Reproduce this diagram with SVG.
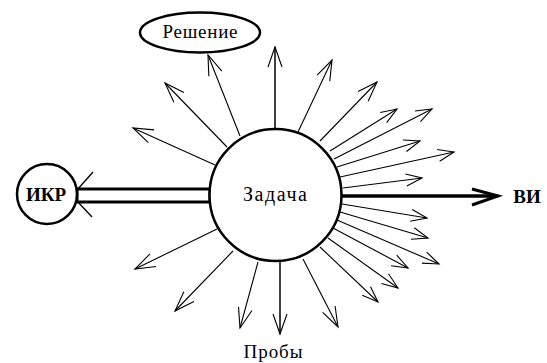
<svg xmlns="http://www.w3.org/2000/svg" width="547" height="363" viewBox="0 0 547 363">
<style>
.node{fill:#fff;stroke:#000;stroke-width:2.5}
text{font-family:"Liberation Serif","DejaVu Serif","Times New Roman",serif;fill:#000;text-anchor:middle}
.b{font-weight:bold;font-size:19px}
.r{font-size:19px}
.a{stroke:#000;stroke-width:1.1;fill:none;marker-end:url(#big)}
.s{stroke:#000;stroke-width:1.1;fill:none;marker-end:url(#small)}
</style>
<defs>
<marker id="big" markerUnits="userSpaceOnUse" markerWidth="30" markerHeight="30" refX="0" refY="0" orient="auto" overflow="visible"><path d="M-20,-7 L0,0 L-20,7" fill="none" stroke="#000" stroke-width="1.1"/></marker>
<marker id="small" markerUnits="userSpaceOnUse" markerWidth="30" markerHeight="30" refX="0" refY="0" orient="auto" overflow="visible"><path d="M-16,-6 L0,0 L-16,6" fill="none" stroke="#000" stroke-width="1.1"/></marker>
</defs>
<rect width="547" height="363" fill="#fff"/>
<g id="connectors">
<rect x="77" y="189" width="133" height="13" fill="none" stroke="#000" stroke-width="3"/>
<path d="M77,190 L93,172 M77,201 L92,217" stroke="#000" stroke-width="1.3" fill="none"/>
<line x1="341" y1="196" x2="498" y2="196" stroke="#000" stroke-width="3.5"/>
<path d="M472,189 L498,196 L472,205" stroke="#000" stroke-width="3" fill="none"/>
<line class="a" x1="240" y1="136" x2="208" y2="55"/>
<line class="a" x1="275" y1="128" x2="275" y2="47" style="stroke-width:1.5"/>
<line class="a" x1="298" y1="132" x2="332" y2="60"/>
<line class="a" x1="320" y1="141" x2="377" y2="82"/>
<line class="a" x1="227" y1="147" x2="165" y2="83"/>
<line class="a" x1="215" y1="165" x2="133" y2="128"/>
<line class="s" x1="330" y1="151" x2="397" y2="109"/>
<line class="s" x1="334" y1="159" x2="432" y2="109"/>
<line class="s" x1="337" y1="167" x2="420" y2="141"/>
<line class="s" x1="340" y1="177" x2="454" y2="152"/>
<line class="s" x1="343" y1="188" x2="422" y2="178"/>
<line class="s" x1="342" y1="204" x2="427" y2="218"/>
<line class="s" x1="340" y1="212" x2="428" y2="238"/>
<line class="s" x1="337" y1="220" x2="439" y2="264"/>
<line class="s" x1="333" y1="228" x2="408" y2="268"/>
<line class="s" x1="328" y1="238" x2="398" y2="288"/>
<line class="s" x1="320" y1="247" x2="378" y2="302"/>
<line class="a" x1="303" y1="259" x2="338" y2="327"/>
<line class="a" x1="280" y1="262" x2="280" y2="334" style="stroke-width:1.5"/>
<line class="a" x1="258" y1="262" x2="240" y2="328"/>
<line class="a" x1="233" y1="251" x2="175" y2="311"/>
<line class="a" x1="217" y1="229" x2="135" y2="269"/>
</g>
<g id="zadacha">
<circle class="node" cx="275.5" cy="195" r="66"/>
<text class="r" x="275" y="201" style="font-size:20px" textLength="64">Задача</text>
</g>
<g id="ikr">
<circle class="node" cx="47" cy="194" r="30"/>
<text class="b" x="46" y="201">ИКР</text>
</g>
<g id="reshenie">
<ellipse class="node" cx="200" cy="32.5" rx="60" ry="20"/>
<text class="r" x="200" y="38" textLength="75">Решение</text>
</g>
<g id="vi">
<text class="b" x="527" y="203">ВИ</text>
</g>
<g id="proby">
<text class="r" x="273" y="358" textLength="59">Пробы</text>
</g>
</svg>
